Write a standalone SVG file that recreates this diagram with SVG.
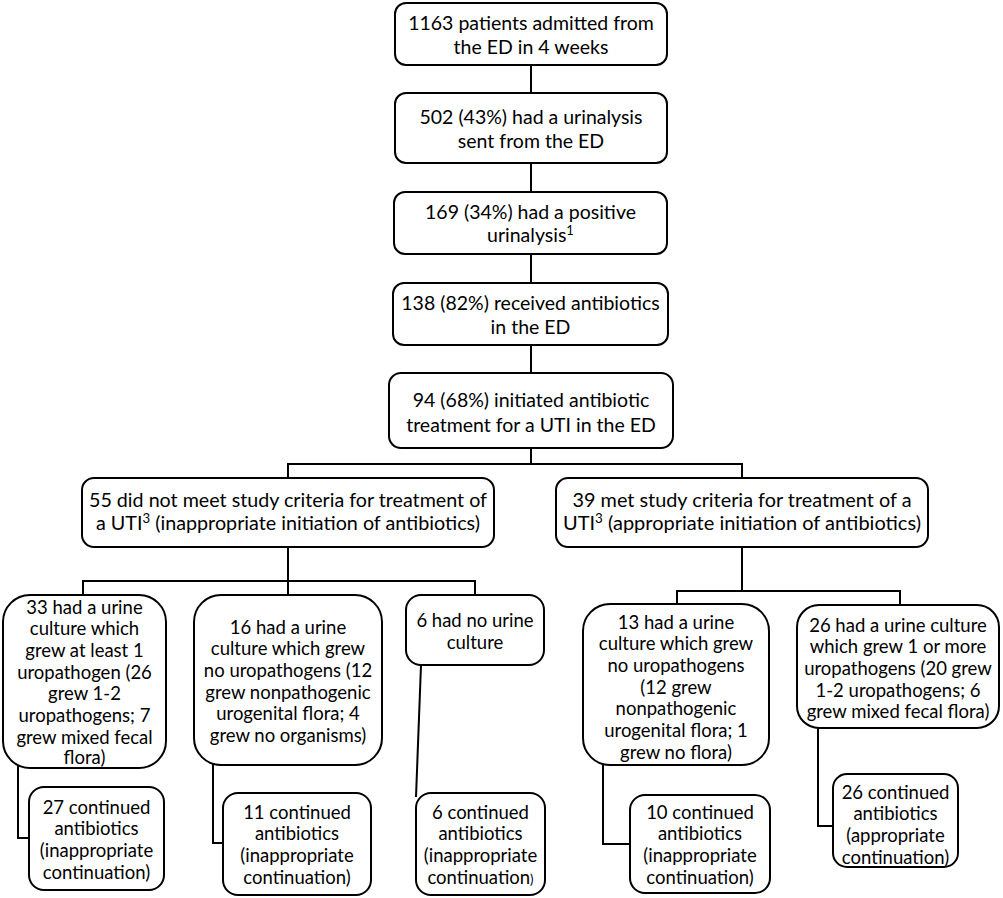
<svg xmlns="http://www.w3.org/2000/svg" width="1003" height="898" viewBox="0 0 1003 898">
<style>
.box{fill:#fff;stroke:#000;stroke-width:2}
.con{fill:none;stroke:#000;stroke-width:2}
.t{font-family:Lato,"Liberation Sans",sans-serif;font-size:19.5px;fill:#000;text-anchor:middle}
.s{font-family:Lato,"Liberation Sans",sans-serif;font-size:18.5px;fill:#000;text-anchor:middle}
.sup{font-size:13px}
</style>
<rect width="1003" height="898" fill="#fff"/>
<g id="connectors">
<path class="con" d="M531 65V93M531 163V192M531 254V283M531 345V373M531 448V464"/>
<path class="con" d="M288 478V464H742V478"/>
<path class="con" d="M288 547V581M83 595V581H475V595M288 581V595"/>
<path class="con" d="M742 547V591M677 604V591H900V605"/>
<path class="con" d="M18 760V838H29"/>
<path class="con" d="M213 760V843H223"/>
<path class="con" d="M421 665L416 797"/>
<path class="con" d="M603 760V844H630"/>
<path class="con" d="M818 725V826H833"/>
</g>
<g id="n1">
<rect class="box" x="395" y="3" width="272" height="62" rx="11"/>
<text class="t" x="531" y="30">1163 patients admitted from</text>
<text class="t" x="531" y="54">the ED in 4 weeks</text>
</g>
<g id="n2">
<rect class="box" x="395" y="93" width="272" height="70" rx="11"/>
<text class="t" x="531" y="124">502 (43%) had a urinalysis</text>
<text class="t" x="531" y="148">sent from the ED</text>
</g>
<g id="n3">
<rect class="box" x="394" y="192" width="273" height="62" rx="11"/>
<text class="t" x="530.5" y="219">169 (34%) had a positive</text>
<text class="t" x="530.5" y="242">urinalysis<tspan class="sup" dy="-7">1</tspan></text>
</g>
<g id="n4">
<rect class="box" x="393" y="283" width="275" height="62" rx="11"/>
<text class="t" x="530.5" y="310">138 (82%) received antibiotics</text>
<text class="t" x="530.5" y="334">in the ED</text>
</g>
<g id="n5">
<rect class="box" x="389" y="373" width="284" height="75" rx="12"/>
<text class="t" x="531" y="407">94 (68%) initiated antibiotic</text>
<text class="t" x="531" y="432">treatment for a UTI in the ED</text>
</g>
<g id="n6">
<rect class="box" x="82" y="478" width="412" height="69" rx="12"/>
<text class="t" x="288" y="507" textLength="398" lengthAdjust="spacingAndGlyphs">55 did not meet study criteria for treatment of</text>
<text class="t" x="288" y="530" textLength="384" lengthAdjust="spacingAndGlyphs">a UTI<tspan class="sup" dy="-7">3</tspan><tspan dy="7"> (inappropriate initiation of antibiotics)</tspan></text>
</g>
<g id="n7">
<rect class="box" x="556" y="478" width="372" height="69" rx="12"/>
<text class="t" x="742" y="507" textLength="339" lengthAdjust="spacingAndGlyphs">39 met study criteria for treatment of a</text>
<text class="t" x="742" y="530" textLength="358" lengthAdjust="spacingAndGlyphs">UTI<tspan class="sup" dy="-7">3</tspan><tspan dy="7"> (appropriate initiation of antibiotics)</tspan></text>
</g>
<g id="n8">
<rect class="box" x="3" y="595" width="163" height="173" rx="27"/>
<text class="s" x="84.5" y="613.5">33 had a urine</text>
<text class="s" x="84.5" y="635.2">culture which</text>
<text class="s" x="84.5" y="656.9">grew at least 1</text>
<text class="s" x="84.5" y="678.6">uropathogen (26</text>
<text class="s" x="84.5" y="700.3">grew 1-2</text>
<text class="s" x="84.5" y="722">uropathogens; 7</text>
<text class="s" x="84.5" y="743.7">grew mixed fecal</text>
<text class="s" x="84.5" y="764">flora)</text>
</g>
<g id="n9">
<rect class="box" x="194" y="595" width="188" height="170" rx="27"/>
<text class="s" x="288" y="633.5">16 had a urine</text>
<text class="s" x="288" y="655.2">culture which grew</text>
<text class="s" x="288" y="676.9">no uropathogens (12</text>
<text class="s" x="288" y="698.6">grew nonpathogenic</text>
<text class="s" x="288" y="720.3">urogenital flora; 4</text>
<text class="s" x="288" y="742">grew no organisms)</text>
</g>
<g id="n10">
<rect class="box" x="406" y="595" width="138" height="70" rx="15"/>
<text class="s" x="475" y="626.5">6 had no urine</text>
<text class="s" x="475" y="648.5">culture</text>
</g>
<g id="n11">
<rect class="box" x="583" y="604" width="186" height="161" rx="27"/>
<text class="s" x="676" y="628.5">13 had a urine</text>
<text class="s" x="676" y="650.2">culture which grew</text>
<text class="s" x="676" y="671.9">no uropathogens</text>
<text class="s" x="676" y="693.6">(12 grew</text>
<text class="s" x="676" y="715.3">nonpathogenic</text>
<text class="s" x="676" y="737">urogenital flora; 1</text>
<text class="s" x="676" y="758.7">grew no flora)</text>
</g>
<g id="n12">
<rect class="box" x="797" y="605" width="202" height="123" rx="22"/>
<text class="s" x="898" y="631.5">26 had a urine culture</text>
<text class="s" x="898" y="653.2">which grew 1 or more</text>
<text class="s" x="898" y="674.9">uropathogens (20 grew</text>
<text class="s" x="898" y="696.6">1-2 uropathogens; 6</text>
<text class="s" x="898" y="718.3">grew mixed fecal flora)</text>
</g>
<g id="n13">
<rect class="box" x="29" y="787" width="135" height="103" rx="15"/>
<text class="s" x="96.5" y="813.5">27 continued</text>
<text class="s" x="96.5" y="835.2">antibiotics</text>
<text class="s" x="96.5" y="856.9">(inappropriate</text>
<text class="s" x="96.5" y="878.6">continuation)</text>
</g>
<g id="n14">
<rect class="box" x="223" y="793" width="148" height="102" rx="15"/>
<text class="s" x="297" y="818.5">11 continued</text>
<text class="s" x="297" y="840.2">antibiotics</text>
<text class="s" x="297" y="861.9">(inappropriate</text>
<text class="s" x="297" y="883.6">continuation)</text>
</g>
<g id="n15">
<rect class="box" x="416" y="793" width="129" height="102" rx="15"/>
<text class="s" x="480.5" y="818.5">6 continued</text>
<text class="s" x="480.5" y="840.2">antibiotics</text>
<text class="s" x="480.5" y="861.9">(inappropriate</text>
<text class="s" x="480.5" y="883.6">continuation<tspan font-size="13">)</tspan></text>
</g>
<g id="n16">
<rect class="box" x="630" y="795" width="140" height="98" rx="15"/>
<text class="s" x="700" y="818.5">10 continued</text>
<text class="s" x="700" y="840.2">antibiotics</text>
<text class="s" x="700" y="861.9">(inappropriate</text>
<text class="s" x="700" y="883.6">continuation)</text>
</g>
<g id="n17">
<rect class="box" x="833" y="774" width="125" height="93" rx="14"/>
<text class="s" x="895.5" y="798.5">26 continued</text>
<text class="s" x="895.5" y="820.2">antibiotics</text>
<text class="s" x="895.5" y="841.9">(appropriate</text>
<text class="s" x="895.5" y="863.6">continuation)</text>
</g>
</svg>
